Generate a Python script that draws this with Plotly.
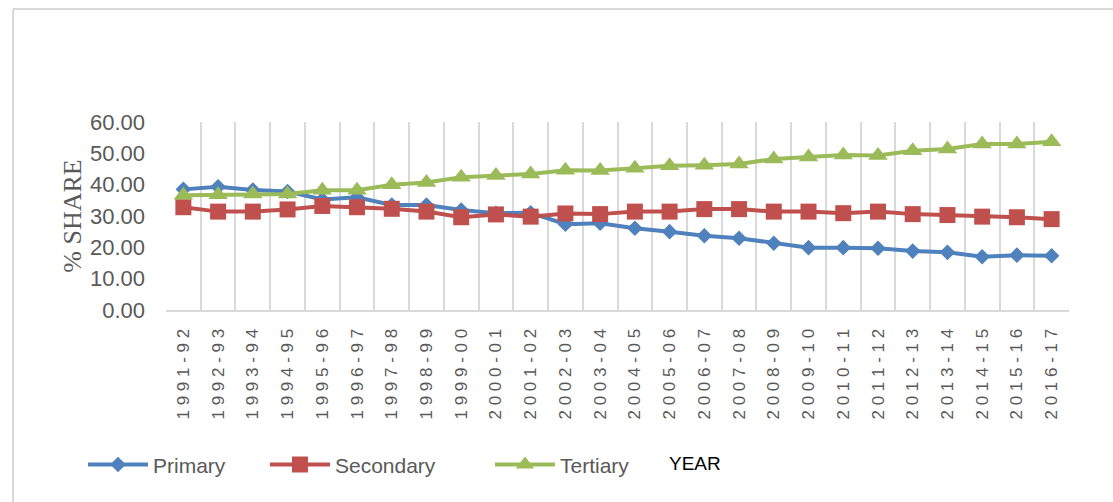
import plotly.graph_objects as go

years = ["1991-92", "1992-93", "1993-94", "1994-95", "1995-96", "1996-97",
         "1997-98", "1998-99", "1999-00", "2000-01", "2001-02", "2002-03",
         "2003-04", "2004-05", "2005-06", "2006-07", "2007-08", "2008-09",
         "2009-10", "2010-11", "2011-12", "2012-13", "2013-14", "2014-15",
         "2015-16", "2016-17"]
primary = [38.5, 39.3, 38.3, 37.8, 35.3, 36.0, 33.5, 33.5, 31.9, 30.9, 31.0,
           27.4, 27.7, 26.1, 25.0, 23.7, 22.9, 21.3, 19.9, 19.9, 19.7, 18.8,
           18.4, 17.0, 17.5, 17.3]
secondary = [32.8, 31.4, 31.4, 32.1, 33.2, 32.8, 32.3, 31.4, 29.6, 30.5, 29.8,
             30.8, 30.6, 31.4, 31.4, 32.2, 32.2, 31.4, 31.4, 30.9, 31.4, 30.6,
             30.3, 29.8, 29.6, 29.0]
tertiary = [36.6, 36.8, 37.0, 37.0, 38.2, 38.2, 40.0, 40.7, 42.4, 42.9, 43.4,
            44.6, 44.5, 45.2, 46.0, 46.2, 46.6, 48.2, 48.8, 49.5, 49.3, 50.8,
            51.4, 53.0, 53.0, 53.7]
y_ticks = [0, 10, 20, 30, 40, 50, 60]

x_idx = list(range(len(years)))
x_text = [" ".join(y) for y in years]

GREY = "#595959"
GRID = "#d9d9d9"

fig = go.Figure()
series = [
    ("Primary", primary, "#4F81BD", "diamond", 12, "legend", -0.0919),
    ("Secondary", secondary, "#C0504D", "square", 16, "legend2", 0.1096),
    ("Tertiary", tertiary, "#9BBB59", "triangle-up", 17, "legend3", 0.3588),
]
legends = {}
for name, vals, col, sym, sz, leg, lx in series:
    fig.add_trace(go.Scatter(
        x=x_idx, y=vals, name=name, mode="lines+markers",
        line=dict(color=col, width=4),
        marker=dict(symbol=sym, size=sz, color=col),
        legend=leg,
    ))
    legends[leg] = dict(orientation="h", x=lx, xanchor="left", y=-0.824,
                        yanchor="middle", font=dict(size=21, color=GREY),
                        itemwidth=60, bgcolor="rgba(0,0,0,0)")

fig.update_layout(
    width=1113, height=502,
    margin=dict(l=166, r=44, t=122, b=192, autoexpand=False),
    paper_bgcolor="white", plot_bgcolor="white",
    font=dict(family="Liberation Sans, Arial, sans-serif", color=GREY),
    showlegend=True,
    shapes=[
        dict(type="line", xref="paper", yref="paper", x0=-0.1694, x1=1.06,
             y0=1.601, y1=1.601, line=dict(color=GRID, width=2)),
        dict(type="line", xref="paper", yref="paper", x0=-0.1694, x1=-0.1694,
             y0=1.601, y1=-1.1, line=dict(color=GRID, width=2)),
    ],
    annotations=[
        dict(text="YEAR", xref="paper", yref="paper", x=0.586, y=-0.814,
             xanchor="center", yanchor="middle", showarrow=False,
             font=dict(size=19, color="black")),
    ],
    **legends,
)

fig.update_xaxes(
    range=[-0.5, len(years) - 0.5],
    tickmode="array", tickvals=x_idx, ticktext=x_text,
    tickangle=-90, tickfont=dict(size=17, color=GREY),
    showgrid=False, ticks="", ticklabelstandoff=10,
    showline=True, linecolor=GRID, linewidth=2,
    minor=dict(tick0=-0.5, dtick=1, showgrid=True, gridcolor=GRID, gridwidth=2, ticks=""),
    zeroline=False,
)
fig.update_yaxes(
    range=[0, 60], tickmode="array", tickvals=y_ticks,
    ticktext=[f"{v:.2f}" for v in y_ticks],
    tickfont=dict(size=22, color=GREY), showgrid=False, zeroline=False,
    ticks="", ticklabelstandoff=20,
    title=dict(text="% SHARE", standoff=0,
               font=dict(family="Liberation Serif, Times New Roman, serif", size=26, color=GREY)),
)

fig.write_html("out.html")
